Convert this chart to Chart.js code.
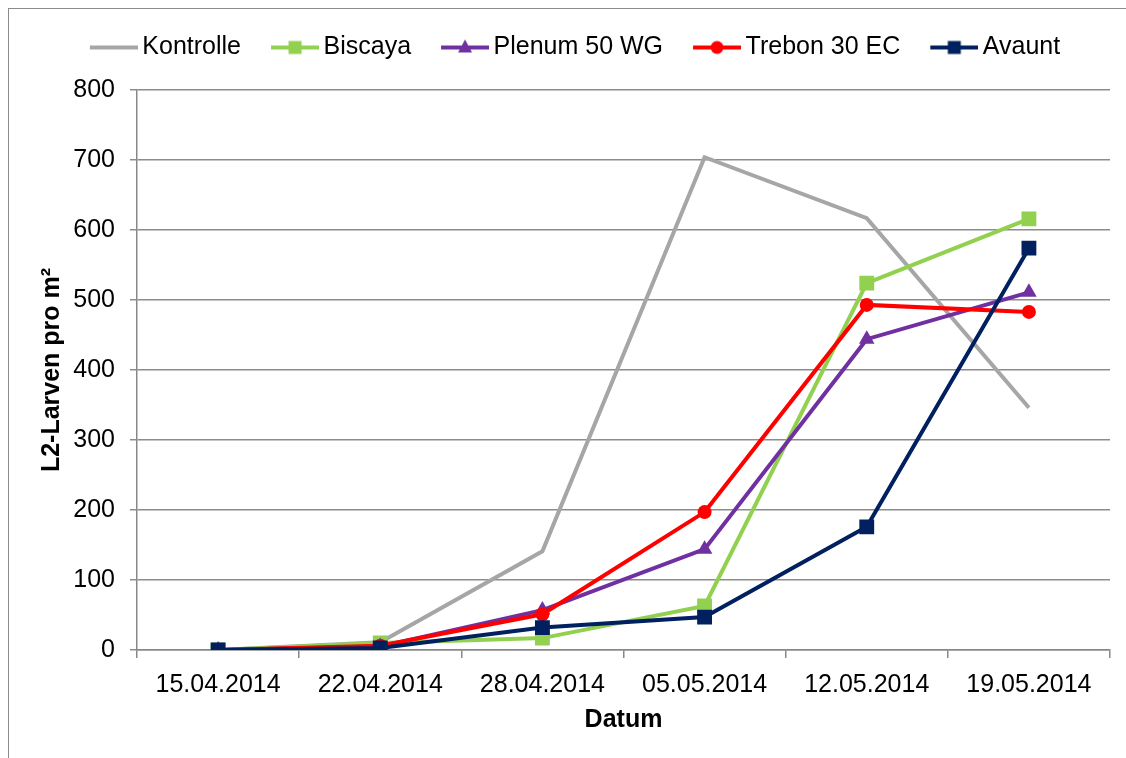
<!DOCTYPE html>
<html>
<head>
<meta charset="utf-8">
<script src="https://cdn.jsdelivr.net/npm/chart.js@4/dist/chart.umd.min.js"></script>
<style>
  html, body { margin: 0; padding: 0; background: #fff; }
  #wrap { position: relative; width: 1126px; height: 758px; overflow: hidden; }
  #frame { position: absolute; left: 8px; top: 8px; width: 1140px; height: 780px;
           border: 1px solid #8c8c8c; pointer-events: none; }
  canvas { position: absolute; left: 0; top: 0; }
</style>
</head>
<body>
<div id="wrap">
  <canvas id="chart" width="1126" height="758"></canvas>
  <div id="frame"></div>
</div>
<script>
const dates = ["15.04.2014", "22.04.2014", "28.04.2014", "05.05.2014", "12.05.2014", "19.05.2014"];

const kontrolle = [0, 11, 141, 704, 617, 346];
const biscaya   = [0, 10, 17, 63, 524, 616];
const plenum    = [0, 5, 57, 144, 444, 511];
const trebon    = [0, 6, 51, 197, 493, 483];
const avaunt    = [0, 3, 32, 47, 176, 574];

const yTicks = [0, 100, 200, 300, 400, 500, 600, 700, 800];

const font = "'Liberation Sans', Arial, sans-serif";

// little legend picture: line with the marker in the middle
function legendIcon(color, marker) {
  const c = document.createElement("canvas");
  c.width = 56;
  c.height = 20;
  const g = c.getContext("2d");
  g.strokeStyle = color;
  g.fillStyle = color;
  g.lineWidth = 4;
  g.beginPath();
  g.moveTo(8, 10);
  g.lineTo(56, 10);
  g.stroke();
  const cx = 32, cy = 10;
  if (marker === "rect") {
    g.fillRect(cx - 6.5, cy - 6.5, 13, 13);
  } else if (marker === "circle") {
    g.beginPath();
    g.arc(cx, cy, 6.5, 0, Math.PI * 2);
    g.fill();
  } else if (marker === "triangle") {
    g.beginPath();
    g.moveTo(cx, cy - 8);
    g.lineTo(cx + 7, cy + 5);
    g.lineTo(cx - 7, cy + 5);
    g.closePath();
    g.fill();
  }
  return c;
}

function series(label, data, color, marker, radius, order) {
  return {
    label,
    data,
    borderColor: color,
    backgroundColor: color,
    borderWidth: 4,
    pointStyle: marker || "circle",
    pointRadius: marker ? radius : 0,
    pointHoverRadius: marker ? radius : 0,
    pointBorderWidth: 0,
    pointBackgroundColor: color,
    tension: 0,
    order,
    icon: legendIcon(color, marker)
  };
}

const legendSpacer = {
  id: "legendSpacer",
  beforeInit(chart) {
    const fit = chart.legend.fit;
    chart.legend.fit = function () {
      fit.bind(chart.legend)();
      this.height += 20;
    };
  }
};

new Chart(document.getElementById("chart"), {
  type: "line",
  data: {
    labels: dates,
    datasets: [
      series("Kontrolle", kontrolle, "#a6a6a6", null, 0, 5),
      series("Biscaya", biscaya, "#92d050", "rect", 10.5, 4),
      series("Plenum 50 WG", plenum, "#7030a0", "triangle", 9, 3),
      series("Trebon 30 EC", trebon, "#ff0000", "circle", 7, 2),
      series("Avaunt", avaunt, "#002060", "rect", 10.5, 1)
    ]
  },
  plugins: [legendSpacer],
  options: {
    responsive: false,
    animation: false,
    layout: { padding: { left: 40, right: 16, top: 5, bottom: 0 } },
    plugins: {
      tooltip: { enabled: false },
      legend: {
        position: "top",
        labels: {
          usePointStyle: true,
          pointStyleWidth: 40,
          padding: 30,
          color: "#000",
          font: { family: font, size: 25 },
          generateLabels(chart) {
            return chart.data.datasets.map((ds, i) => ({
              text: ds.label,
              pointStyle: ds.icon,
              fillStyle: ds.borderColor,
              strokeStyle: ds.borderColor,
              lineWidth: 0,
              hidden: false,
              datasetIndex: i,
              fontColor: "#000"
            }));
          }
        }
      }
    },
    scales: {
      x: {
        offset: true,
        afterFit(scale) { scale.height = 108; },
        grid: { offset: true, drawOnChartArea: false, drawTicks: true, tickLength: 8, color: "#888", lineWidth: 1.5 },
        border: { display: true, color: "#888", width: 1.5 },
        ticks: { color: "#000", padding: 12, maxRotation: 0, font: { family: font, size: 25 } },
        title: { display: true, text: "Datum", color: "#000", padding: { top: 0, bottom: 23 },
                 font: { family: font, size: 25, weight: "bold" } }
      },
      y: {
        min: 0,
        max: 800,
        afterFit(scale) { scale.width = 97; },
        afterBuildTicks(scale) { scale.ticks = yTicks.map(v => ({ value: v })); },
        grid: { color: "#8c8c8c", lineWidth: 1.5, drawTicks: true, tickLength: 7 },
        border: { display: true, color: "#888", width: 1.5 },
        ticks: { color: "#000", padding: 15, font: { family: font, size: 25 } },
        title: { display: true, text: "L2-Larven pro m²", color: "#000", padding: 0,
                 font: { family: font, size: 25, weight: "bold", lineHeight: 1 } }
      }
    }
  }
});
</script>
</body>
</html>
